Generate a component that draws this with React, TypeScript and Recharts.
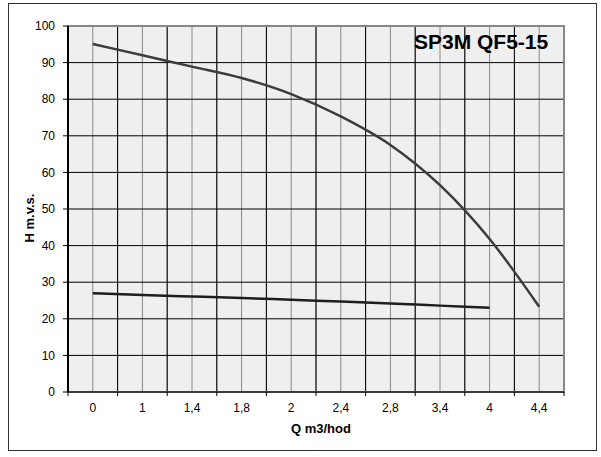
import React from "react";
import {
  LineChart,
  Line,
  XAxis,
  YAxis,
  CartesianGrid,
  ReferenceArea,
} from "recharts";

const categories = ["0", "1", "1,4", "1,8", "2", "2,4", "2,8", "3,4", "4", "4,4"];
const headCurve = [95.1, 92, 88.9, 85.8, 81.4, 75.3, 67.5, 56.5, 41.8, 23.3];
const lowerCurve: (number | null)[] = [27, 26.5, 26.1, 25.7, 25.2, 24.7, 24.2, 23.6, 23, null];
const yTicks = [0, 10, 20, 30, 40, 50, 60, 70, 80, 90, 100];

const title = "SP3M QF5-15";
const xTitle = "Q m3/hod";
const yTitle = "H m.v.s.";

const data = categories.map((label, i) => ({
  i,
  label,
  h: headCurve[i],
  h2: lowerCurve[i],
}));

// tick positions: category centres and boundaries (every half category)
const xGridTicks: number[] = [];
for (let k = 0; k <= categories.length * 2; k++) xGridTicks.push(k / 2 - 0.5);
const xBoundaries = xGridTicks.filter((v) => !Number.isInteger(v));

const FONT = "'Liberation Sans', Arial, sans-serif";
const TICK_SIZE = 4;
const TICK_MARGIN = 7;

const XTick = (props: any) => {
  const { x, y, payload } = props;
  const v = payload.value as number;
  if (Number.isInteger(v)) {
    return (
      <text
        x={x}
        y={y}
        dy="0.71em"
        textAnchor="middle"
        fill="#000"
        fontSize={12}
        fontFamily={FONT}
      >
        {categories[v]}
      </text>
    );
  }
  return (
    <line
      x1={x}
      x2={x}
      y1={y - TICK_MARGIN - TICK_SIZE}
      y2={y - TICK_MARGIN}
      stroke="#000"
      strokeWidth={1}
    />
  );
};

export default function App() {
  return (
    <div style={{ position: "absolute", left: 0, top: 0, width: 601, height: 457, background: "#fff" }}>
      <div
        style={{
          position: "absolute",
          left: 8,
          top: 3,
          width: 589,
          height: 448,
          boxSizing: "border-box",
          border: "1px solid #333",
        }}
      />
      <div style={{ position: "absolute", left: 0, top: 0 }}>
        <LineChart
          width={601}
          height={457}
          data={data}
          margin={{ top: 26, right: 37, bottom: 0, left: 0 }}
        >
          <CartesianGrid
            stroke="#888"
            strokeWidth={1}
            fill="#efefef"
            fillOpacity={1}
            horizontal={false}
          />
          <CartesianGrid
            stroke="#000"
            strokeWidth={1}
            fill="none"
            vertical={false}
          />
          <CartesianGrid
            stroke="#000"
            strokeWidth={1}
            fill="none"
            horizontal={false}
            verticalValues={xBoundaries}
          />
          <ReferenceArea
            x1={-0.5}
            x2={9.5}
            y1={0}
            y2={100}
            fill="none"
            fillOpacity={0}
            stroke="#888"
            strokeWidth={2}
          />
          <XAxis
            type="number"
            dataKey="i"
            domain={[-0.5, 9.5]}
            ticks={xGridTicks}
            interval={0}
            height={65}
            tickSize={TICK_SIZE}
            tickMargin={TICK_MARGIN}
            tickLine={{ stroke: "transparent" }}
            axisLine={{ stroke: "#222", strokeWidth: 1.5 }}
            tick={<XTick />}
            allowDataOverflow
          />
          <YAxis
            type="number"
            domain={[0, 100]}
            ticks={yTicks}
            interval={0}
            width={68}
            tickSize={5}
            tickMargin={8}
            tickLine={{ stroke: "#000" }}
            axisLine={{ stroke: "#000", strokeWidth: 2 }}
            tick={{ fill: "#000", fontSize: 12, fontFamily: FONT }}
          />
          <Line
            type="monotone"
            dataKey="h"
            stroke="#3c3c3c"
            strokeWidth={2.5}
            dot={false}
            isAnimationActive={false}
          />
          <Line
            type="monotone"
            dataKey="h2"
            stroke="#1e1e1e"
            strokeWidth={2.5}
            dot={false}
            connectNulls={false}
            isAnimationActive={false}
          />
        </LineChart>
      </div>
      <div
        style={{
          position: "absolute",
          left: 414,
          top: 31,
          fontFamily: FONT,
          fontWeight: "bold",
          fontSize: 21,
          lineHeight: "21px",
          color: "#000",
          whiteSpace: "nowrap",
        }}
      >
        {title}
      </div>
      <div
        style={{
          position: "absolute",
          left: 291,
          top: 422,
          fontFamily: FONT,
          fontWeight: "bold",
          fontSize: 13,
          lineHeight: "13px",
          color: "#000",
          whiteSpace: "nowrap",
        }}
      >
        {xTitle}
      </div>
      <div
        style={{
          position: "absolute",
          left: -20,
          top: 211,
          width: 100,
          height: 14,
          textAlign: "center",
          transform: "rotate(-90deg)",
          fontFamily: FONT,
          fontWeight: "bold",
          fontSize: 13,
          lineHeight: "14px",
          color: "#000",
          whiteSpace: "nowrap",
        }}
      >
        {yTitle}
      </div>
    </div>
  );
}
